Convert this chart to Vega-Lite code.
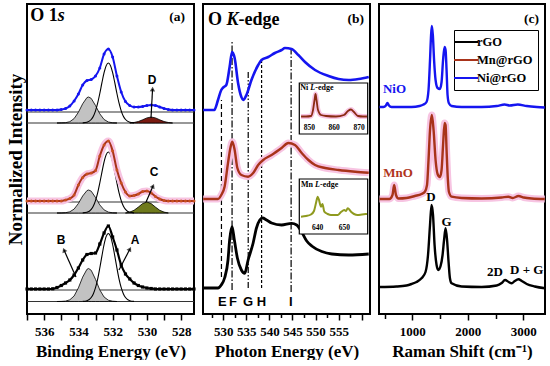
{
"$schema": "https://vega.github.io/schema/vega-lite/v6.json",
"background": "white",
"padding": {"left": 5, "top": 3, "right": 0, "bottom": 0},
"spacing": 9,
"bounds": "flush",
"config": {
 "view": {"stroke": "black", "strokeWidth": 2},
 "axis": {"grid": false, "domain": false, "tickColor": "black", "tickWidth": 1.5, "labelFont": "Liberation Serif", "labelFontWeight": "bold", "labelFontSize": 13, "labelColor": "black", "labelPadding": 5, "labelOverlap": false, "labelFlush": false, "titleFont": "Liberation Serif", "titleFontWeight": "bold", "titleFontSize": 17, "titleColor": "black", "titlePadding": 5}
},
"resolve": {"scale": {"color": "independent", "strokeDash": "independent"}, "legend": {"color": "independent"}},
"datasets": {
 "a_ni": [{"e":537,"y":204},{"e":536.75,"y":204},{"e":536.5,"y":204},{"e":536.25,"y":204},{"e":536,"y":204},{"e":535.75,"y":204},{"e":535.5,"y":204},{"e":535.25,"y":204},{"e":535,"y":204.5},{"e":534.75,"y":205.5},{"e":534.5,"y":208},{"e":534.25,"y":213},{"e":534,"y":220},{"e":533.75,"y":229},{"e":533.5,"y":233.5},{"e":533.25,"y":234.5},{"e":533,"y":238},{"e":532.75,"y":246},{"e":532.5,"y":260},{"e":532.25,"y":265},{"e":532,"y":257},{"e":531.75,"y":238},{"e":531.5,"y":222},{"e":531.25,"y":212.5},{"e":531,"y":208.5},{"e":530.75,"y":207},{"e":530.5,"y":207},{"e":530.25,"y":207.5},{"e":530,"y":208.5},{"e":529.75,"y":209},{"e":529.5,"y":208.5},{"e":529.25,"y":207},{"e":529,"y":205.5},{"e":528.75,"y":204.5},{"e":528.5,"y":204},{"e":528.25,"y":204},{"e":528,"y":204},{"e":527.75,"y":204},{"e":527.5,"y":204},{"e":527.25,"y":204}],
 "a_mn": [{"e":537,"y":113},{"e":536.75,"y":113},{"e":536.5,"y":113},{"e":536.25,"y":113},{"e":536,"y":113},{"e":535.75,"y":113},{"e":535.5,"y":113},{"e":535.25,"y":113},{"e":535,"y":113},{"e":534.75,"y":114},{"e":534.5,"y":115.5},{"e":534.25,"y":119},{"e":534,"y":129},{"e":533.75,"y":136.5},{"e":533.5,"y":140},{"e":533.25,"y":141},{"e":533,"y":143.5},{"e":532.75,"y":158},{"e":532.5,"y":169},{"e":532.25,"y":173},{"e":532,"y":163},{"e":531.75,"y":144},{"e":531.5,"y":131},{"e":531.25,"y":122},{"e":531,"y":118},{"e":530.75,"y":118.5},{"e":530.5,"y":120},{"e":530.25,"y":122.5},{"e":530,"y":123},{"e":529.75,"y":121},{"e":529.5,"y":117.5},{"e":529.25,"y":115},{"e":529,"y":113.5},{"e":528.75,"y":113},{"e":528.5,"y":113},{"e":528.25,"y":113},{"e":528,"y":113},{"e":527.75,"y":113},{"e":527.5,"y":113},{"e":527.25,"y":113}],
 "a_rgo": [{"e":537,"y":25},{"e":536.75,"y":25},{"e":536.5,"y":25},{"e":536.25,"y":25},{"e":536,"y":25},{"e":535.75,"y":25},{"e":535.5,"y":25.2},{"e":535.25,"y":26.5},{"e":535,"y":28.5},{"e":534.75,"y":31},{"e":534.5,"y":34},{"e":534.25,"y":39},{"e":534,"y":46},{"e":533.75,"y":54},{"e":533.5,"y":59.5},{"e":533.25,"y":60.5},{"e":533,"y":61},{"e":532.75,"y":70},{"e":532.5,"y":81},{"e":532.25,"y":88},{"e":532,"y":77},{"e":531.75,"y":64},{"e":531.5,"y":49},{"e":531.25,"y":40},{"e":531,"y":35},{"e":530.75,"y":31},{"e":530.5,"y":28.5},{"e":530.25,"y":27},{"e":530,"y":26},{"e":529.75,"y":25.5},{"e":529.5,"y":25},{"e":529.25,"y":25},{"e":529,"y":25},{"e":528.75,"y":25},{"e":528.5,"y":25},{"e":528.25,"y":25},{"e":528,"y":25},{"e":527.75,"y":25},{"e":527.5,"y":25},{"e":527.25,"y":25}],
 "a_fb": [
  {"g":"top","b":191,"e":535.25,"y":191},{"g":"top","b":191,"e":535,"y":191.1},{"g":"top","b":191,"e":534.75,"y":191.3},{"g":"top","b":191,"e":534.5,"y":192.3},{"g":"top","b":191,"e":534.25,"y":195.4},{"g":"top","b":191,"e":534,"y":201.7},{"g":"top","b":191,"e":533.75,"y":210.2},{"g":"top","b":191,"e":533.5,"y":216.4},{"g":"top","b":191,"e":533.4,"y":217},{"g":"top","b":191,"e":533.25,"y":215.6},{"g":"top","b":191,"e":533,"y":208.5},{"g":"top","b":191,"e":532.75,"y":200.2},{"g":"top","b":191,"e":532.5,"y":194.5},{"g":"top","b":191,"e":532.25,"y":192},{"g":"top","b":191,"e":532,"y":191.2},{"g":"top","b":191,"e":531.75,"y":191},
  {"g":"mid","b":101,"e":535.25,"y":101},{"g":"mid","b":101,"e":535,"y":101},{"g":"mid","b":101,"e":534.75,"y":101.3},{"g":"mid","b":101,"e":534.5,"y":102.2},{"g":"mid","b":101,"e":534.25,"y":104.9},{"g":"mid","b":101,"e":534,"y":110.5},{"g":"mid","b":101,"e":533.75,"y":118},{"g":"mid","b":101,"e":533.5,"y":123.4},{"g":"mid","b":101,"e":533.4,"y":124},{"g":"mid","b":101,"e":533.25,"y":122.8},{"g":"mid","b":101,"e":533,"y":116.5},{"g":"mid","b":101,"e":532.75,"y":109.1},{"g":"mid","b":101,"e":532.5,"y":104.1},{"g":"mid","b":101,"e":532.25,"y":101.9},{"g":"mid","b":101,"e":532,"y":101.2},{"g":"mid","b":101,"e":531.75,"y":101},
  {"g":"bot","b":12.5,"e":535.25,"y":12.5},{"g":"bot","b":12.5,"e":535,"y":12.6},{"g":"bot","b":12.5,"e":534.75,"y":12.9},{"g":"bot","b":12.5,"e":534.5,"y":14.2},{"g":"bot","b":12.5,"e":534.25,"y":18},{"g":"bot","b":12.5,"e":534,"y":26.1},{"g":"bot","b":12.5,"e":533.75,"y":36.9},{"g":"bot","b":12.5,"e":533.5,"y":44.7},{"g":"bot","b":12.5,"e":533.4,"y":45.5},{"g":"bot","b":12.5,"e":533.25,"y":43.7},{"g":"bot","b":12.5,"e":533,"y":34.7},{"g":"bot","b":12.5,"e":532.75,"y":24.1},{"g":"bot","b":12.5,"e":532.5,"y":17},{"g":"bot","b":12.5,"e":532.25,"y":13.8},{"g":"bot","b":12.5,"e":532,"y":12.8},{"g":"bot","b":12.5,"e":531.75,"y":12.5}],
 "a_fa": [
  {"g":"top","e":533.75,"y":191.1},{"g":"top","e":533.5,"y":191.7},{"g":"top","e":533.25,"y":194.5},{"g":"top","e":533.125,"y":197.8},{"g":"top","e":533,"y":203.2},{"g":"top","e":532.875,"y":210.8},{"g":"top","e":532.75,"y":220.5},{"g":"top","e":532.625,"y":231.3},{"g":"top","e":532.5,"y":241.3},{"g":"top","e":532.375,"y":248.4},{"g":"top","e":532.25,"y":251},{"g":"top","e":532.125,"y":248.4},{"g":"top","e":532,"y":241.3},{"g":"top","e":531.875,"y":231.3},{"g":"top","e":531.75,"y":220.5},{"g":"top","e":531.625,"y":210.8},{"g":"top","e":531.5,"y":203.2},{"g":"top","e":531.375,"y":197.8},{"g":"top","e":531.25,"y":194.5},{"g":"top","e":531,"y":191.7},{"g":"top","e":530.75,"y":191.1},
  {"g":"mid","e":533.75,"y":101.1},{"g":"mid","e":533.5,"y":101.7},{"g":"mid","e":533.25,"y":104.6},{"g":"mid","e":533.125,"y":108},{"g":"mid","e":533,"y":113.4},{"g":"mid","e":532.875,"y":121.1},{"g":"mid","e":532.75,"y":131},{"g":"mid","e":532.625,"y":141.9},{"g":"mid","e":532.5,"y":152.1},{"g":"mid","e":532.375,"y":159.4},{"g":"mid","e":532.25,"y":162},{"g":"mid","e":532.125,"y":159.4},{"g":"mid","e":532,"y":152.1},{"g":"mid","e":531.875,"y":141.9},{"g":"mid","e":531.75,"y":131},{"g":"mid","e":531.625,"y":121.1},{"g":"mid","e":531.5,"y":113.4},{"g":"mid","e":531.375,"y":108},{"g":"mid","e":531.25,"y":104.6},{"g":"mid","e":531,"y":101.7},{"g":"mid","e":530.75,"y":101.1},
  {"g":"bot","e":533.75,"y":12.6},{"g":"bot","e":533.5,"y":13.3},{"g":"bot","e":533.25,"y":16.5},{"g":"bot","e":533.125,"y":20.3},{"g":"bot","e":533,"y":26.3},{"g":"bot","e":532.875,"y":34.9},{"g":"bot","e":532.75,"y":46},{"g":"bot","e":532.625,"y":58.1},{"g":"bot","e":532.5,"y":69.5},{"g":"bot","e":532.375,"y":77.6},{"g":"bot","e":532.25,"y":80.5},{"g":"bot","e":532.125,"y":77.6},{"g":"bot","e":532,"y":69.5},{"g":"bot","e":531.875,"y":58.1},{"g":"bot","e":531.75,"y":46},{"g":"bot","e":531.625,"y":34.9},{"g":"bot","e":531.5,"y":26.3},{"g":"bot","e":531.375,"y":20.3},{"g":"bot","e":531.25,"y":16.5},{"g":"bot","e":531,"y":13.3},{"g":"bot","e":530.75,"y":12.6}],
 "a_fc": [{"e":531.25,"y":101},{"e":531,"y":101.9},{"e":530.75,"y":103.7},{"e":530.5,"y":106.9},{"e":530.25,"y":110.4},{"e":530,"y":112},{"e":529.75,"y":110.4},{"e":529.5,"y":106.9},{"e":529.25,"y":103.7},{"e":529,"y":101.9},{"e":528.75,"y":101}],
 "a_fd": [{"e":531,"y":191},{"e":530.75,"y":191.5},{"e":530.5,"y":192.5},{"e":530.25,"y":194.2},{"e":530,"y":196.1},{"e":529.75,"y":197},{"e":529.5,"y":196.1},{"e":529.25,"y":194.2},{"e":529,"y":192.5},{"e":528.75,"y":191.5},{"e":528.5,"y":191}],
 "a_hl": [{"y":202,"e":537,"e2":527.25},{"y":191,"e":537,"e2":527.25},{"y":112,"e":537,"e2":527.25},{"y":101,"e":537,"e2":527.25},{"y":24,"e":537,"e2":527.25},{"y":12.5,"e":537,"e2":527.25}],
 "a_arr": [{"e":529.76,"y":196,"e2":529.67,"y2":225},{"e":530.05,"y":112,"e2":529.64,"y2":128},{"e":534.14,"y":37,"e2":534.84,"y2":64},{"e":531.63,"y":44,"e2":530.99,"y2":65}],
 "b_ni": [{"e":525.64,"y":204},{"e":528.04,"y":204},{"e":528.85,"y":214},{"e":529.56,"y":224},{"e":530.1,"y":227},{"e":530.65,"y":229},{"e":531.37,"y":247},{"e":531.9,"y":262},{"e":532.46,"y":256},{"e":533.2,"y":231},{"e":533.92,"y":217},{"e":534.29,"y":214},{"e":535.01,"y":219},{"e":536.1,"y":234},{"e":537.56,"y":249},{"e":538.28,"y":254},{"e":539.74,"y":257},{"e":541.18,"y":261},{"e":542.64,"y":264},{"e":543.36,"y":266},{"e":544.81,"y":265},{"e":546.27,"y":259},{"e":547.71,"y":252},{"e":549.89,"y":244},{"e":552.81,"y":238},{"e":554.99,"y":235},{"e":557.17,"y":234},{"e":559.35,"y":235},{"e":561.53,"y":237}],
 "b_mn": [{"e":525.64,"y":115},{"e":528.85,"y":115},{"e":529.56,"y":119},{"e":530.28,"y":127.3},{"e":531.02,"y":151},{"e":531.59,"y":167.3},{"e":531.96,"y":172.3},{"e":532.46,"y":164},{"e":533.05,"y":146},{"e":533.92,"y":139},{"e":535.38,"y":137.3},{"e":536.47,"y":141},{"e":537.56,"y":149},{"e":538.65,"y":154},{"e":540.46,"y":159},{"e":542.64,"y":166},{"e":544.1,"y":171},{"e":545.53,"y":169},{"e":547,"y":161},{"e":548.45,"y":154},{"e":549.89,"y":149},{"e":552.07,"y":146},{"e":554.99,"y":144},{"e":558.61,"y":142.3},{"e":561.53,"y":141.3}],
 "b_rgo": [{"e":525.64,"y":26},{"e":528.85,"y":26},{"e":529.56,"y":29},{"e":530.28,"y":36},{"e":531.02,"y":54},{"e":531.37,"y":74},{"e":531.9,"y":87.3},{"e":532.4,"y":74},{"e":533.05,"y":56},{"e":533.92,"y":44},{"e":534.64,"y":40.7},{"e":535.38,"y":54},{"e":536.47,"y":71},{"e":537.19,"y":86},{"e":537.91,"y":94},{"e":538.5,"y":96},{"e":539.37,"y":94},{"e":540.46,"y":91},{"e":542.64,"y":89},{"e":544.81,"y":90.7},{"e":545.9,"y":89},{"e":546.99,"y":82},{"e":548.08,"y":73},{"e":549.17,"y":68},{"e":551.35,"y":62.5},{"e":553.53,"y":60},{"e":557.17,"y":59},{"e":561.53,"y":60}],
 "b_vl": [{"k":"E","e":529.6,"y":37,"y2":214},{"k":"F","e":531.9,"y":24,"y2":272},{"k":"G","e":535.4,"y":26,"y2":242},{"k":"H","e":538.3,"y":26,"y2":256},{"k":"I","e":544.7,"y":22,"y2":266}],
 "b_lab": [{"t":"E","e":529.78,"y":12.3},{"t":"F","e":532.11,"y":12.3},{"t":"G","e":535.38,"y":12.3},{"t":"H","e":538.28,"y":12.3},{"t":"I","e":544.66,"y":12.3}],
 "ins_ni": [{"e":846.7,"y":17.5},{"e":848.7,"y":17.5},{"e":850.7,"y":18},{"e":851.5,"y":24},{"e":852.1,"y":34},{"e":852.5,"y":40},{"e":852.9,"y":34},{"e":853.5,"y":24},{"e":854.7,"y":19},{"e":856.7,"y":18},{"e":860.7,"y":17.5},{"e":863.9,"y":19},{"e":865.5,"y":23},{"e":866.7,"y":24.5},{"e":867.9,"y":22},{"e":869.5,"y":18},{"e":871.5,"y":17.5},{"e":873.1,"y":17.5}],
 "ins_mn": [{"e":633.72,"y":17.3},{"e":635.6,"y":18},{"e":637.48,"y":19.5},{"e":638.6,"y":23},{"e":639.36,"y":31},{"e":640,"y":37.3},{"e":640.5,"y":34},{"e":640.86,"y":30},{"e":641.24,"y":27.3},{"e":641.8,"y":30},{"e":642.48,"y":22.3},{"e":643.76,"y":20},{"e":645,"y":19},{"e":647.52,"y":19},{"e":648.76,"y":22},{"e":650,"y":24},{"e":650.64,"y":23},{"e":651.28,"y":25.7},{"e":652.52,"y":22.3},{"e":653.65,"y":20},{"e":655.04,"y":19},{"e":656.65,"y":19.5},{"e":658.53,"y":20}],
 "c_rs": [
  {"s":"Ni@rGO","v":408,"y":207},{"s":"Ni@rGO","v":480,"y":207},{"s":"Ni@rGO","v":525,"y":208.5},{"s":"Ni@rGO","v":552,"y":211},{"s":"Ni@rGO","v":579,"y":208.5},{"s":"Ni@rGO","v":625,"y":207},{"s":"Ni@rGO","v":805,"y":207},{"s":"Ni@rGO","v":986,"y":207},{"s":"Ni@rGO","v":1130,"y":208},{"s":"Ni@rGO","v":1202,"y":209.5},{"s":"Ni@rGO","v":1256,"y":212},{"s":"Ni@rGO","v":1292,"y":224},{"s":"Ni@rGO","v":1319,"y":254},{"s":"Ni@rGO","v":1338,"y":279},{"s":"Ni@rGO","v":1352,"y":288},{"s":"Ni@rGO","v":1370,"y":279},{"s":"Ni@rGO","v":1392,"y":254},{"s":"Ni@rGO","v":1419,"y":234},{"s":"Ni@rGO","v":1455,"y":226},{"s":"Ni@rGO","v":1496,"y":225},{"s":"Ni@rGO","v":1527,"y":232},{"s":"Ni@rGO","v":1554,"y":254},{"s":"Ni@rGO","v":1581,"y":267},{"s":"Ni@rGO","v":1599,"y":264},{"s":"Ni@rGO","v":1617,"y":244},{"s":"Ni@rGO","v":1635,"y":219},{"s":"Ni@rGO","v":1659,"y":210.7},{"s":"Ni@rGO","v":1708,"y":208},{"s":"Ni@rGO","v":1888,"y":207},{"s":"Ni@rGO","v":2249,"y":207},{"s":"Ni@rGO","v":2520,"y":208},{"s":"Ni@rGO","v":2664,"y":209.5},{"s":"Ni@rGO","v":2755,"y":208.5},{"s":"Ni@rGO","v":2899,"y":209.5},{"s":"Ni@rGO","v":3061,"y":208},{"s":"Ni@rGO","v":3242,"y":207},{"s":"Ni@rGO","v":3386,"y":206.5},
  {"s":"Mn@rGO","v":408,"y":115},{"s":"Mn@rGO","v":588,"y":115},{"s":"Mn@rGO","v":643,"y":119},{"s":"Mn@rGO","v":673,"y":129},{"s":"Mn@rGO","v":706,"y":119},{"s":"Mn@rGO","v":751,"y":115.5},{"s":"Mn@rGO","v":895,"y":116},{"s":"Mn@rGO","v":1045,"y":118},{"s":"Mn@rGO","v":1166,"y":120},{"s":"Mn@rGO","v":1226,"y":122.3},{"s":"Mn@rGO","v":1265,"y":129},{"s":"Mn@rGO","v":1292,"y":154},{"s":"Mn@rGO","v":1319,"y":184},{"s":"Mn@rGO","v":1352,"y":199},{"s":"Mn@rGO","v":1383,"y":184},{"s":"Mn@rGO","v":1419,"y":154},{"s":"Mn@rGO","v":1455,"y":140},{"s":"Mn@rGO","v":1496,"y":137},{"s":"Mn@rGO","v":1527,"y":144},{"s":"Mn@rGO","v":1554,"y":169},{"s":"Mn@rGO","v":1581,"y":191},{"s":"Mn@rGO","v":1599,"y":189},{"s":"Mn@rGO","v":1617,"y":164},{"s":"Mn@rGO","v":1641,"y":134},{"s":"Mn@rGO","v":1659,"y":122.3},{"s":"Mn@rGO","v":1708,"y":117.3},{"s":"Mn@rGO","v":1888,"y":116},{"s":"Mn@rGO","v":2249,"y":115.5},{"s":"Mn@rGO","v":2610,"y":116.5},{"s":"Mn@rGO","v":2731,"y":117.3},{"s":"Mn@rGO","v":2809,"y":116},{"s":"Mn@rGO","v":2912,"y":118},{"s":"Mn@rGO","v":3007,"y":116.5},{"s":"Mn@rGO","v":3152,"y":115.5},{"s":"Mn@rGO","v":3386,"y":115},
  {"s":"rGO","v":408,"y":27},{"s":"rGO","v":715,"y":27.5},{"s":"rGO","v":895,"y":28.5},{"s":"rGO","v":986,"y":30},{"s":"rGO","v":1076,"y":32},{"s":"rGO","v":1166,"y":35.7},{"s":"rGO","v":1238,"y":42},{"s":"rGO","v":1283,"y":59},{"s":"rGO","v":1319,"y":89},{"s":"rGO","v":1346,"y":109},{"s":"rGO","v":1373,"y":99},{"s":"rGO","v":1401,"y":69},{"s":"rGO","v":1437,"y":49},{"s":"rGO","v":1468,"y":44},{"s":"rGO","v":1509,"y":48},{"s":"rGO","v":1545,"y":59},{"s":"rGO","v":1572,"y":74},{"s":"rGO","v":1599,"y":85.7},{"s":"rGO","v":1626,"y":74},{"s":"rGO","v":1653,"y":52},{"s":"rGO","v":1677,"y":36},{"s":"rGO","v":1708,"y":30.7},{"s":"rGO","v":1888,"y":27.5},{"s":"rGO","v":2249,"y":27},{"s":"rGO","v":2520,"y":28.5},{"s":"rGO","v":2610,"y":31},{"s":"rGO","v":2670,"y":34},{"s":"rGO","v":2736,"y":32},{"s":"rGO","v":2791,"y":30.7},{"s":"rGO","v":2845,"y":33},{"s":"rGO","v":2912,"y":34.7},{"s":"rGO","v":2971,"y":33},{"s":"rGO","v":3061,"y":30},{"s":"rGO","v":3206,"y":27.5},{"s":"rGO","v":3390,"y":25.7}]
},
"hconcat": [
 {
  "width": 167, "height": 310,
  "encoding": {
   "x": {"field": "e", "type": "quantitative", "scale": {"domain": [537, 527.25], "nice": false, "zero": false},
         "axis": {"title": "Binding Energy (eV)", "values": [537,536.5,536,535.5,535,534.5,534,533.5,533,532.5,532,531.5,531,530.5,530,529.5,529,528.5,528,527.5], "format": "d", "labels": true, "labelExpr": "datum.value % 2 === 0 ? datum.label : ''", "tickSize": {"condition": {"test": "datum.value % 1 === 0", "value": 6}, "value": 3.5}}},
   "y": {"field": "y", "type": "quantitative", "scale": {"domain": [0, 310], "nice": false, "zero": false},
         "axis": {"title": "Normalized Intensity", "labels": false, "ticks": false, "domain": false, "titleFontSize": 19, "titlePadding": 2}}
  },
  "layer": [
   {"data": {"name": "a_hl"}, "mark": {"type": "rule", "color": "#333333", "strokeWidth": 1.2}, "encoding": {"x2": {"field": "e2"}}},
   {"data": {"name": "a_fb"}, "mark": {"type": "area", "fill": "#c2c2c2", "stroke": "black", "strokeWidth": 0.8}, "encoding": {"y2": {"field": "b"}, "detail": {"field": "g"}}},
   {"data": {"name": "a_fc"}, "mark": {"type": "area", "fill": "#6f7a1c", "stroke": "black", "strokeWidth": 0.8}, "encoding": {"y2": {"datum": 101}}},
   {"data": {"name": "a_fd"}, "mark": {"type": "area", "fill": "#7a1a10", "stroke": "black", "strokeWidth": 0.8}, "encoding": {"y2": {"datum": 191}}},
   {"data": {"name": "a_fa"}, "mark": {"type": "line", "color": "black", "strokeWidth": 1.1, "interpolate": "monotone"}, "encoding": {"detail": {"field": "g"}}},
   {"data": {"name": "a_mn"}, "mark": {"type": "line", "color": "#f7c4e2", "strokeWidth": 7, "interpolate": "monotone"}},
   {"data": {"name": "a_ni"}, "mark": {"type": "line", "color": "#1515f0", "strokeWidth": 2, "interpolate": "monotone", "point": {"filled": true, "size": 9, "color": "#1515f0"}}},
   {"data": {"name": "a_mn"}, "mark": {"type": "line", "color": "#a8331a", "strokeWidth": 2, "interpolate": "monotone", "point": {"filled": true, "size": 9, "color": "#c8501e"}}},
   {"data": {"name": "a_rgo"}, "mark": {"type": "line", "color": "black", "strokeWidth": 2.2, "interpolate": "monotone", "point": {"filled": true, "size": 10, "shape": "square", "color": "black"}}},
   {"data": {"name": "a_arr"}, "mark": {"type": "rule", "color": "black", "strokeWidth": 1.2}, "encoding": {"x2": {"field": "e2"}, "y2": {"field": "y2"}}},
   {"data": {"values": [{"e": 529.67, "y": 225}]}, "mark": {"type": "point", "shape": "triangle-up", "filled": true, "size": 28, "angle": 3, "color": "black"}},
   {"data": {"values": [{"e": 529.64, "y": 128}]}, "mark": {"type": "point", "shape": "triangle-up", "filled": true, "size": 28, "angle": 24, "color": "black"}},
   {"data": {"values": [{"e": 534.84, "y": 64}]}, "mark": {"type": "point", "shape": "triangle-up", "filled": true, "size": 28, "angle": -24, "color": "black"}},
   {"data": {"values": [{"e": 530.99, "y": 65}]}, "mark": {"type": "point", "shape": "triangle-up", "filled": true, "size": 28, "angle": 28, "color": "black"}},
   {"data": {"values": [{"e": 529.7, "y": 234, "t": "D"}, {"e": 529.58, "y": 142, "t": "C"}, {"e": 535.01, "y": 74, "t": "B"}, {"e": 530.69, "y": 74, "t": "A"}]}, "mark": {"type": "text", "font": "Liberation Sans", "fontWeight": "bold", "fontSize": 12, "color": "black", "baseline": "middle"}, "encoding": {"text": {"field": "t"}}},
   {"data": {"values": [{"e": 536.81, "y": 293.3, "t": "O 1"}]}, "mark": {"type": "text", "font": "Liberation Serif", "fontWeight": "bold", "fontSize": 18, "color": "black", "align": "left", "baseline": "alphabetic"}, "encoding": {"text": {"field": "t"}}},
   {"data": {"values": [{"e": 536.81, "y": 293.3, "t": "s"}]}, "mark": {"type": "text", "font": "Liberation Serif", "fontWeight": "bold", "fontStyle": "italic", "fontSize": 18, "color": "black", "align": "left", "baseline": "alphabetic", "dx": 27.5}, "encoding": {"text": {"field": "t"}}},
   {"data": {"values": [{"e": 527.78, "y": 293.5, "t": "(a)"}]}, "mark": {"type": "text", "font": "Liberation Serif", "fontWeight": "bold", "fontSize": 13.5, "color": "black", "align": "right", "baseline": "alphabetic"}, "encoding": {"text": {"field": "t"}}}
  ]
 },
 {
  "width": 167, "height": 310,
  "resolve": {"scale": {"x": "independent", "y": "independent"}, "axis": {"x": "independent", "y": "independent"}},
  "layer": [
   {
    "encoding": {
     "x": {"field": "e", "type": "quantitative", "scale": {"domain": [525.6, 561.8], "nice": false, "zero": false},
           "axis": {"title": "Photon Energy (eV)", "values": [527.5,530,532.5,535,537.5,540,542.5,545,547.5,550,552.5,555,557.5,560], "format": "d", "labelExpr": "datum.value % 5 === 0 && datum.value <= 555 ? datum.label : ''", "tickSize": {"condition": {"test": "datum.value % 5 === 0", "value": 6}, "value": 3.5}}},
     "y": {"field": "y", "type": "quantitative", "scale": {"domain": [0, 310], "nice": false, "zero": false}, "axis": null}
    },
    "layer": [
     {"data": {"name": "b_vl"}, "mark": {"type": "rule", "color": "black", "strokeWidth": 1.2}, "encoding": {"y2": {"field": "y2"}, "strokeDash": {"field": "k", "type": "nominal", "scale": {"domain": ["E","F","G","H","I"], "range": [[5,3],[7,2,1.5,2],[6,2,1.5,2,1.5,2],[3,2],[7,2,1.5,2]]}, "legend": null}}},
     {"data": {"name": "b_mn"}, "mark": {"type": "line", "color": "#f7c4e2", "strokeWidth": 7, "interpolate": "monotone"}},
     {"data": {"name": "b_ni"}, "mark": {"type": "line", "color": "#1515f0", "strokeWidth": 2.6, "interpolate": "monotone"}},
     {"data": {"name": "b_mn"}, "mark": {"type": "line", "color": "#a8331a", "strokeWidth": 2.4, "interpolate": "monotone"}},
     {"data": {"name": "b_rgo"}, "mark": {"type": "line", "color": "black", "strokeWidth": 2.8, "interpolate": "monotone"}},
     {"data": {"name": "b_lab"}, "mark": {"type": "text", "font": "Liberation Sans", "fontWeight": "bold", "fontSize": 13, "color": "black", "baseline": "middle"}, "encoding": {"text": {"field": "t"}}},
     {"data": {"values": [{"e": 526.68, "y": 289.5, "t": "O "}]}, "mark": {"type": "text", "font": "Liberation Serif", "fontWeight": "bold", "fontSize": 18, "color": "black", "align": "left", "baseline": "alphabetic"}, "encoding": {"text": {"field": "t"}}},
     {"data": {"values": [{"e": 526.68, "y": 289.5, "t": "K"}]}, "mark": {"type": "text", "font": "Liberation Serif", "fontWeight": "bold", "fontStyle": "italic", "fontSize": 18, "color": "black", "align": "left", "baseline": "alphabetic", "dx": 18.5}, "encoding": {"text": {"field": "t"}}},
     {"data": {"values": [{"e": 526.68, "y": 289.5, "t": "-edge"}]}, "mark": {"type": "text", "font": "Liberation Serif", "fontWeight": "bold", "fontSize": 18, "color": "black", "align": "left", "baseline": "alphabetic", "dx": 30.5}, "encoding": {"text": {"field": "t"}}},
     {"data": {"values": [{"e": 560.5, "y": 291, "t": "(b)"}]}, "mark": {"type": "text", "font": "Liberation Serif", "fontWeight": "bold", "fontSize": 13.5, "color": "black", "align": "right", "baseline": "alphabetic"}, "encoding": {"text": {"field": "t"}}}
    ]
   },
   {
    "encoding": {
     "x": {"field": "e", "type": "quantitative", "scale": {"domain": [846, 873.4], "range": [96.3, 164.7], "nice": false, "zero": false}, "axis": null},
     "y": {"field": "y", "type": "quantitative", "scale": {"domain": [0, 51], "range": [130, 79], "nice": false, "zero": false}, "axis": null}
    },
    "layer": [
     {"data": {"values": [{"e": 846, "e2": 873.4, "y": 0, "y2": 51}]}, "mark": {"type": "rect", "fill": "white", "stroke": "black", "strokeWidth": 1.2}, "encoding": {"x2": {"field": "e2"}, "y2": {"field": "y2"}}},
     {"data": {"name": "ins_ni"}, "mark": {"type": "line", "color": "#f7c4e2", "strokeWidth": 5, "interpolate": "monotone"}},
     {"data": {"name": "ins_ni"}, "mark": {"type": "line", "color": "#8a2a12", "strokeWidth": 1.8, "interpolate": "monotone"}},
     {"data": {"values": [{"e": 850, "y": 6, "t": "850"}, {"e": 860, "y": 6, "t": "860"}, {"e": 870, "y": 6, "t": "870"}]}, "mark": {"type": "text", "font": "Liberation Serif", "fontWeight": "bold", "fontSize": 7.5, "color": "black", "baseline": "middle"}, "encoding": {"text": {"field": "t"}}},
     {"data": {"values": [{"e": 846.4, "y": 46, "t": "Ni "}]}, "mark": {"type": "text", "font": "Liberation Serif", "fontWeight": "bold", "fontSize": 8, "color": "black", "align": "left", "baseline": "middle"}, "encoding": {"text": {"field": "t"}}},
     {"data": {"values": [{"e": 846.4, "y": 46, "t": "L"}]}, "mark": {"type": "text", "font": "Liberation Serif", "fontWeight": "bold", "fontStyle": "italic", "fontSize": 8, "color": "black", "align": "left", "baseline": "middle", "dx": 10}, "encoding": {"text": {"field": "t"}}},
     {"data": {"values": [{"e": 846.4, "y": 46, "t": "-edge"}]}, "mark": {"type": "text", "font": "Liberation Serif", "fontWeight": "bold", "fontSize": 8, "color": "black", "align": "left", "baseline": "middle", "dx": 15}, "encoding": {"text": {"field": "t"}}}
    ]
   },
   {
    "encoding": {
     "x": {"field": "e", "type": "quantitative", "scale": {"domain": [633.08, 658.8], "range": [96.3, 164.7], "nice": false, "zero": false}, "axis": null},
     "y": {"field": "y", "type": "quantitative", "scale": {"domain": [0, 55], "range": [230, 175], "nice": false, "zero": false}, "axis": null}
    },
    "layer": [
     {"data": {"values": [{"e": 633.08, "e2": 658.8, "y": 0, "y2": 55}]}, "mark": {"type": "rect", "fill": "white", "stroke": "black", "strokeWidth": 1.2}, "encoding": {"x2": {"field": "e2"}, "y2": {"field": "y2"}}},
     {"data": {"name": "ins_mn"}, "mark": {"type": "line", "color": "#8f9a1f", "strokeWidth": 2, "interpolate": "monotone"}},
     {"data": {"values": [{"e": 640, "y": 6, "t": "640"}, {"e": 650, "y": 6, "t": "650"}]}, "mark": {"type": "text", "font": "Liberation Serif", "fontWeight": "bold", "fontSize": 7.5, "color": "black", "baseline": "middle"}, "encoding": {"text": {"field": "t"}}},
     {"data": {"values": [{"e": 633.72, "y": 49, "t": "Mn "}]}, "mark": {"type": "text", "font": "Liberation Serif", "fontWeight": "bold", "fontSize": 8, "color": "black", "align": "left", "baseline": "middle"}, "encoding": {"text": {"field": "t"}}},
     {"data": {"values": [{"e": 633.72, "y": 49, "t": "L"}]}, "mark": {"type": "text", "font": "Liberation Serif", "fontWeight": "bold", "fontStyle": "italic", "fontSize": 8, "color": "black", "align": "left", "baseline": "middle", "dx": 14}, "encoding": {"text": {"field": "t"}}},
     {"data": {"values": [{"e": 633.72, "y": 49, "t": "-edge"}]}, "mark": {"type": "text", "font": "Liberation Serif", "fontWeight": "bold", "fontSize": 8, "color": "black", "align": "left", "baseline": "middle", "dx": 19}, "encoding": {"text": {"field": "t"}}}
    ]
   }
  ]
 },
 {
  "width": 166, "height": 310,
  "encoding": {
   "x": {"field": "v", "type": "quantitative", "scale": {"domain": [400, 3390], "nice": false, "zero": false},
         "axis": {"title": "Raman Shift (cm⁻¹)", "values": [500,1000,1500,2000,2500,3000], "format": "d", "labelExpr": "datum.value % 1000 === 0 ? datum.label : ''", "tickSize": {"condition": {"test": "datum.value % 1000 === 0", "value": 6}, "value": 4.5}}},
   "y": {"field": "y", "type": "quantitative", "scale": {"domain": [0, 310], "nice": false, "zero": false}, "axis": null}
  },
  "layer": [
   {"data": {"name": "c_rs"}, "transform": [{"filter": "datum.s === 'Mn@rGO'"}], "mark": {"type": "line", "color": "#f7c4e2", "strokeWidth": 7, "interpolate": "monotone"}},
   {"data": {"name": "c_rs"}, "mark": {"type": "line", "strokeWidth": 2.4, "interpolate": "monotone"},
    "encoding": {"color": {"field": "s", "type": "nominal", "scale": {"domain": ["rGO", "Mn@rGO", "Ni@rGO"], "range": ["black", "#a8331a", "#1515f0"]},
      "legend": {"title": null, "orient": "none", "legendX": 75, "legendY": 26, "strokeColor": "black", "fillColor": "white", "padding": 5, "labelFont": "Liberation Serif", "labelFontWeight": "bold", "labelFontSize": 12.5, "labelColor": "black", "symbolType": "M-2,0H2", "symbolSize": 144, "symbolStrokeWidth": 2, "rowPadding": 4, "labelOffset": 4}}}},
   {"data": {"values": [{"v": 679, "y": 225, "t": "NiO"}]}, "mark": {"type": "text", "font": "Liberation Serif", "fontWeight": "bold", "fontSize": 13, "color": "#1515f0", "baseline": "middle"}, "encoding": {"text": {"field": "t"}}},
   {"data": {"values": [{"v": 745, "y": 140.7, "t": "MnO"}]}, "mark": {"type": "text", "font": "Liberation Serif", "fontWeight": "bold", "fontSize": 13, "color": "#b0341c", "baseline": "middle"}, "encoding": {"text": {"field": "t"}}},
   {"data": {"values": [{"v": 1334, "y": 116.7, "t": "D"}, {"v": 1617, "y": 92.3, "t": "G"}, {"v": 2489, "y": 42.3, "t": "2D"}, {"v": 3061, "y": 44, "t": "D + G"}]}, "mark": {"type": "text", "font": "Liberation Serif", "fontWeight": "bold", "fontSize": 13, "color": "black", "baseline": "middle"}, "encoding": {"text": {"field": "t"}}},
   {"data": {"values": [{"v": 3282, "y": 291.5, "t": "(c)"}]}, "mark": {"type": "text", "font": "Liberation Serif", "fontWeight": "bold", "fontSize": 13.5, "color": "black", "align": "right", "baseline": "alphabetic"}, "encoding": {"text": {"field": "t"}}}
  ]
 }
]
}
